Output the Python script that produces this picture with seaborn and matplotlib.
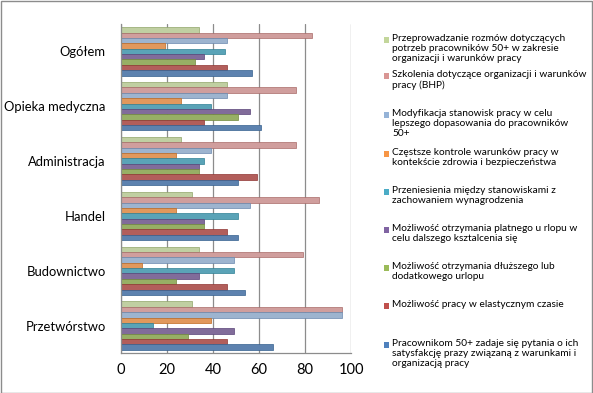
import matplotlib
matplotlib.use("Agg")
import matplotlib.pyplot as plt
from matplotlib.patches import Rectangle
from matplotlib.ticker import FixedLocator
import seaborn as sns
import pandas as pd

categories = ["Ogółem", "Opieka medyczna", "Administracja", "Handel", "Budownictwo", "Przetwórstwo"]

series_names = [
    "Przeprowadzanie rozmów dotyczących\npotrzeb pracowników 50+ w zakresie\norganizacji i warunków pracy",
    "Szkolenia dotyczące organizacji i warunków\npracy (BHP)",
    "Modyfikacja stanowisk pracy w celu\nlepszego dopasowania do pracowników\n50+",
    "Częstsze kontrole warunków pracy w\nkontekście zdrowia i bezpieczeństwa",
    "Przeniesienia między stanowiskami z\nzachowaniem wynagrodzenia",
    "Możliwość otrzymania platnego u rlopu w\ncelu dalszego ksztalcenia się",
    "Możliwość otrzymania dłuższego lub\ndodatkowego urlopu",
    "Możliwość pracy w elastycznym czasie",
    "Pracownikom 50+ zadaje się pytania o ich\nsatysfakcję prazy związaną z warunkami i\norganizacją pracy",
]

rozmowy = [34, 46, 26, 31, 34, 31]
szkolenia = [83, 76, 76, 86, 79, 96]
modyfikacja = [46, 46, 39, 56, 49, 96]
kontrole = [19, 26, 24, 24, 9, 39]
przeniesienia = [45, 39, 36, 51, 49, 14]
platny_urlop = [36, 56, 34, 36, 34, 49]
dluzszy_urlop = [32, 51, 34, 36, 24, 29]
elastyczny = [46, 36, 59, 46, 46, 46]
satysfakcja = [57, 61, 51, 51, 54, 66]

series_values = [rozmowy, szkolenia, modyfikacja, kontrole, przeniesienia,
                 platny_urlop, dluzszy_urlop, elastyczny, satysfakcja]

colors = ["#C3D69B", "#D99694", "#95B3D7", "#F79646", "#4BACC6",
          "#8064A2", "#9BBB59", "#C0504D", "#4F81BD"]
edge_colors = ["#8FA468", "#A86A68", "#6A88AE", "#C06A20", "#2E8095",
               "#5A4378", "#728A3C", "#8F3432", "#35608F"]

rows = []
for name, vals in zip(series_names, series_values):
    for cat, v in zip(categories, vals):
        rows.append({"category": cat, "series": name, "value": v})
df = pd.DataFrame(rows)

sns.set_style("white")
plt.rcParams["font.family"] = ["Lato", "DejaVu Sans"]

fig = plt.figure(figsize=(5.93, 3.93), dpi=100)
ax = fig.add_axes([121 / 593, 1 - 353 / 393, 230 / 593, 329 / 393])

sns.barplot(data=df, x="value", y="category", hue="series", orient="h",
            order=categories, hue_order=series_names, palette=colors,
            width=0.88, gap=0, legend=False, ax=ax, errorbar=None,
            linewidth=0.5)

# darker edges per series
for container, ec in zip(ax.containers, edge_colors):
    for bar in container:
        bar.set_edgecolor(ec)

ax.set_xlim(0, 100)
ax.set_ylim(len(categories) - 0.5, -0.5)
ax.set_xticks([0, 20, 40, 60, 80, 100])
ax.set_xlabel("")
ax.set_ylabel("")
ax.xaxis.grid(True, color="#8C8C8C", linewidth=0.9)
ax.set_axisbelow(True)
for s in ["top", "right"]:
    ax.spines[s].set_visible(False)
for s in ["left", "bottom"]:
    ax.spines[s].set_color("#8C8C8C")
    ax.spines[s].set_linewidth(0.9)

ax.tick_params(axis="x", length=4, color="#8C8C8C", labelsize=10.5, pad=3, direction="out")
ax.tick_params(axis="y", which="major", length=0, labelsize=9.4, pad=11)
ax.yaxis.set_minor_locator(FixedLocator([i - 0.5 for i in range(len(categories) + 1)]))
ax.tick_params(axis="y", which="minor", length=4, color="#8C8C8C", direction="out")
for lbl in ax.get_xticklabels() + ax.get_yticklabels():
    lbl.set_color("#000000")

# manual legend
marker_y = [40, 76, 115, 154, 192, 230, 268, 306, 345]
fs = 7.3
line_px = 11.6
for name, col, ec, ym in zip(series_names, colors, edge_colors, marker_y):
    size = 5.5
    fig.patches.append(Rectangle(((384) / 593, 1 - (ym + size / 2) / 393),
                                 size / 593, size / 393, transform=fig.transFigure,
                                 facecolor=col, edgecolor="none"))
    fig.text(392 / 593, 1 - (ym - line_px / 2) / 393, name, fontsize=fs,
             va="top", ha="left", linespacing=line_px / (fs * 100 / 72),
             color="#000000")

# outer frame
fig.patches.append(Rectangle((0.5 / 593, 0.5 / 393), 1 - 1.5 / 593, 1 - 1.5 / 393,
                             transform=fig.transFigure, facecolor="none",
                             edgecolor="#8C8C8C", linewidth=1))

fig.savefig("out.png", dpi=100)
